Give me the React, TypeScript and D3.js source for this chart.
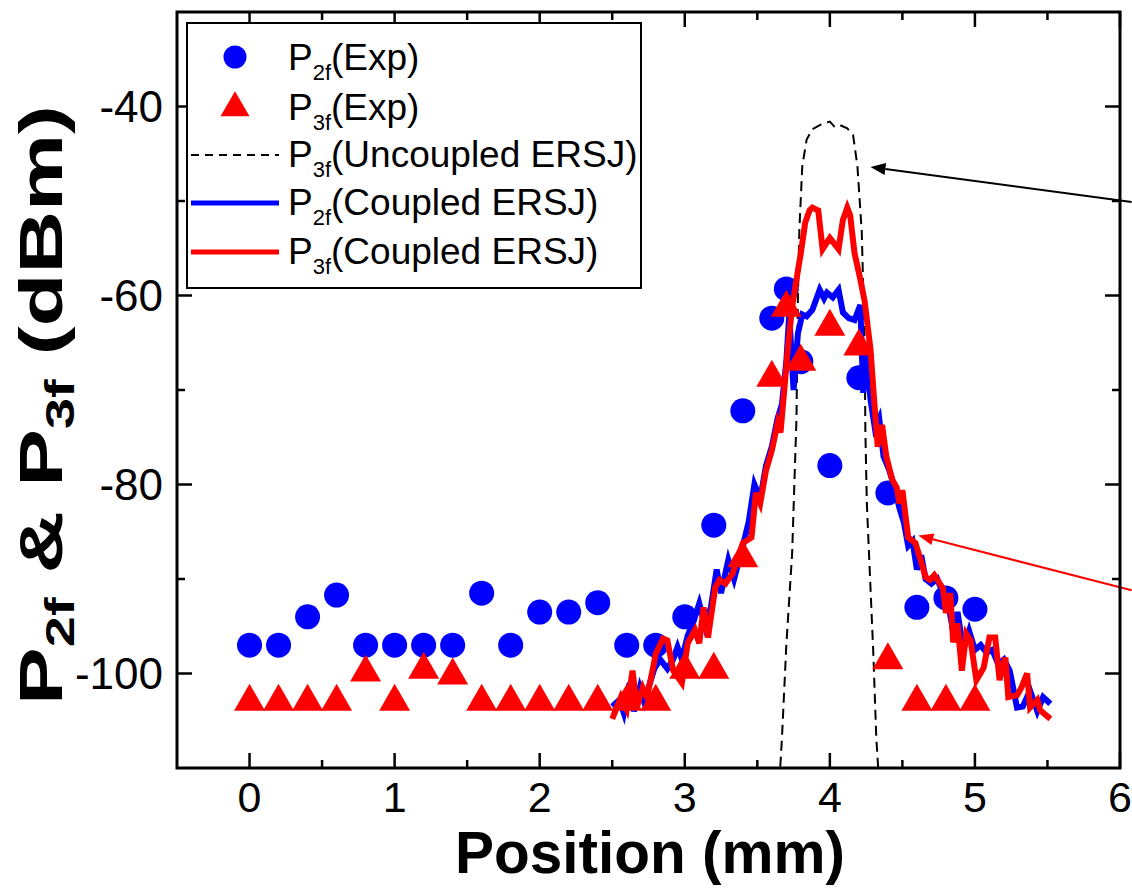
import React from 'react';
import * as d3 from 'd3';

// ---------- data ----------
const expX = [0, 0.2, 0.4, 0.6, 0.8, 1.0, 1.2, 1.4, 1.6, 1.8, 2.0, 2.2, 2.4, 2.6, 2.8, 3.0, 3.2, 3.4, 3.6, 3.7, 3.8, 4.0, 4.2, 4.4, 4.6, 4.8, 5.0];
const p2fExp = [-97, -97, -94, -91.7, -97, -97, -97, -97, -91.5, -97, -93.5, -93.5, -92.5, -97, -97, -94, -84.3, -72.2, -62.4, -59.3, -67, -78, -68.7, -80.9, -93, -92, -93.2];
const p3fExp = [-103, -103, -103, -103, -99.9, -103, -99.6, -100.2, -103, -103, -103, -103, -103, -103, -103, -99.6, -99.6, -87.8, -68.7, -61.3, -67, -63.3, -65.4, -98.6, -103, -103, -103];

const uncoupledX = [3.62, 3.65, 3.67, 3.70, 3.74, 3.77, 3.78, 3.79, 3.81, 3.84, 3.88, 3.94, 4.0, 4.03, 4.06, 4.12, 4.16, 4.19, 4.22, 4.24, 4.245, 4.255, 4.3, 4.32, 4.35];
const p3fUncoupled = [-120, -112, -106.8, -97, -87.3, -73, -60, -53, -46.3, -43.5, -42.4, -41.9, -41.6, -42.1, -41.9, -42.3, -43, -46.3, -53.3, -65, -74.5, -82, -98, -106.8, -114];

const p3fCoupledX = [2.50, 2.56, 2.60, 2.64, 2.67, 2.71, 2.74, 2.78, 2.80, 2.85, 2.88, 2.92, 2.98, 3.02, 3.07, 3.10, 3.13, 3.16, 3.21, 3.24, 3.28, 3.33, 3.40, 3.46, 3.49, 3.52, 3.56, 3.60, 3.64, 3.66, 3.68, 3.71, 3.74, 3.77, 3.80, 3.83, 3.86, 3.88, 3.92, 3.95, 4.00, 4.06, 4.09, 4.12, 4.14, 4.17, 4.21, 4.24, 4.28, 4.31, 4.33, 4.36, 4.39, 4.43, 4.46, 4.48, 4.50, 4.54, 4.59, 4.62, 4.66, 4.69, 4.72, 4.75, 4.78, 4.80, 4.83, 4.85, 4.88, 4.91, 4.94, 4.97, 5.01, 5.06, 5.10, 5.14, 5.17, 5.21, 5.23, 5.29, 5.32, 5.36, 5.38, 5.43, 5.45, 5.52];
const p3fCoupled = [-104.8, -102.5, -103.8, -99.7, -103.6, -101.5, -102.5, -99.5, -97.9, -96.3, -96.5, -99.7, -101, -96.8, -95.4, -96.8, -93, -96.2, -90.9, -90.1, -90.5, -89.4, -86.2, -85.6, -80.9, -82, -78.5, -76.4, -73.5, -74.5, -71, -65.7, -61.2, -58.3, -55.5, -52.3, -51, -50.7, -51, -55.1, -53.9, -55.1, -52, -50.7, -51.5, -55.5, -58.3, -60.6, -65.7, -72, -76, -73.7, -77.1, -79.5, -80.3, -82, -80.6, -85.6, -86.2, -87.7, -89.8, -90.1, -89.6, -90.3, -91, -93.6, -91.5, -96.7, -94.7, -99.7, -95.8, -96.5, -100.7, -99.4, -96.2, -96.2, -100.7, -98.3, -102.5, -102.3, -101.5, -100, -103.6, -102.8, -103.9, -104.8];

const p2fCoupledX = [2.50, 2.55, 2.58, 2.62, 2.65, 2.69, 2.72, 2.76, 2.79, 2.83, 2.88, 2.92, 2.95, 2.98, 3.02, 3.06, 3.10, 3.14, 3.18, 3.22, 3.25, 3.30, 3.34, 3.40, 3.44, 3.48, 3.52, 3.56, 3.60, 3.64, 3.67, 3.70, 3.72, 3.75, 3.78, 3.81, 3.84, 3.88, 3.93, 3.96, 3.98, 4.02, 4.06, 4.09, 4.13, 4.17, 4.21, 4.23, 4.25, 4.28, 4.31, 4.34, 4.37, 4.41, 4.44, 4.48, 4.51, 4.54, 4.57, 4.60, 4.63, 4.66, 4.70, 4.74, 4.78, 4.82, 4.85, 4.88, 4.92, 4.96, 5.00, 5.04, 5.08, 5.12, 5.16, 5.20, 5.24, 5.29, 5.33, 5.38, 5.43, 5.47, 5.52];
const p2fCoupled = [-103.5, -102.8, -104.2, -101, -104, -101.5, -103, -101, -99.5, -98.5, -99.5, -98.5, -97.2, -98.5, -96, -94.5, -92.6, -95, -93, -89, -91.5, -88, -90, -86.5, -84, -80, -81.5, -78, -76, -73, -71.5, -67, -62, -70, -64, -62, -62.2, -61.5, -59.4, -60.3, -59.7, -60.2, -59.4, -61.8, -62.4, -62.6, -61, -70.3, -66, -71, -74, -73, -77, -78.5, -80, -82.5, -84, -86.5, -86, -89, -87.5, -90, -90.5, -90, -91.5, -93, -95.5, -93.5, -97.5, -95.5, -97.5, -97, -97.8, -97.5, -99, -98.5, -99.7, -103.6, -103.5, -101.8, -104, -102.5, -103.2];

const xMajorTicks = [0, 1, 2, 3, 4, 5, 6];
const xMinorTicks = [0.5, 1.5, 2.5, 3.5, 4.5, 5.5];
const yMajorTicks = [-100, -80, -60, -40];
const yMinorTicks = [-90, -70, -50];

// annotation arrows: [tipX, tipY, tailX, tailY] in data units
const blackArrow = [4.28, -46.4, 6.08, -50.1];
const redArrow = [4.61, -85.4, 6.08, -91.2];

const legendLabels = [
  { sub: '2f', rest: '(Exp)' },
  { sub: '3f', rest: '(Exp)' },
  { sub: '3f', rest: '(Uncoupled ERSJ)' },
  { sub: '2f', rest: '(Coupled ERSJ)' },
  { sub: '3f', rest: '(Coupled ERSJ)' },
];

// ---------- layout ----------
const W = 1132, H = 894;
const L = 177, R = 1120, T = 12, B = 768;
const FONT = '"Liberation Sans", Arial, Helvetica, sans-serif';
const BLUE = '#0000ff', RED = '#ff0000';

const x = d3.scaleLinear().domain([-0.5, 6]).range([L, R]);
const y = d3.scaleLinear().domain([-110, -30]).range([B, T]);

const lineGen = d3.line<[number, number]>().x(d => x(d[0])).y(d => y(d[1]));
const zip = (xs: number[], ys: number[]) => xs.map((v, i) => [v, ys[i]] as [number, number]);

const TRI_W = 31, TRI_H = 27;
const triPath = (cx: number, cy: number, w = TRI_W, h = TRI_H) =>
  `M${cx},${cy - (2 * h) / 3}L${cx + w / 2},${cy + h / 3}L${cx - w / 2},${cy + h / 3}Z`;

function Arrow({ a, color, width }: { a: number[]; color: string; width: number }) {
  const tx = x(a[0]), ty = y(a[1]), sx = x(a[2]), sy = y(a[3]);
  const dx = sx - tx, dy = sy - ty;
  const len = Math.hypot(dx, dy);
  const ux = dx / len, uy = dy / len;
  const hl = 15, hw = 6;
  const bx = tx + ux * hl, by = ty + uy * hl;
  const head = `M${tx},${ty}L${bx - uy * hw},${by + ux * hw}L${bx + uy * hw},${by - ux * hw}Z`;
  return (
    <g>
      <line x1={bx} y1={by} x2={sx} y2={sy} stroke={color} strokeWidth={width} />
      <path d={head} fill={color} />
    </g>
  );
}

export default function App() {
  const rowBase = [70, 120, 167, 215, 264];
  const symX = 235;
  return (
    <div style={{ position: 'absolute', left: 0, top: 0 }}>
      <svg width={W} height={H} viewBox={`0 0 ${W} ${H}`} style={{ display: 'block', background: '#fff' }}>
        <defs>
          <clipPath id="plotClip">
            <rect x={L} y={T} width={R - L} height={B - T} />
          </clipPath>
        </defs>
        <rect x={0} y={0} width={W} height={H} fill="#fff" />

        <g clipPath="url(#plotClip)">
          <path d={lineGen(zip(uncoupledX, p3fUncoupled)) || ''} fill="none" stroke="#000" strokeWidth={2} strokeDasharray="10,6" />
          {expX.map((v, i) => (
            <circle key={'c' + i} cx={x(v)} cy={y(p2fExp[i])} r={12.5} fill={BLUE} />
          ))}
          <path d={lineGen(zip(p2fCoupledX, p2fCoupled)) || ''} fill="none" stroke={BLUE} strokeWidth={6} strokeLinejoin="miter" />
          {expX.map((v, i) => (
            <path key={'t' + i} d={triPath(x(v), y(p3fExp[i]))} fill={RED} />
          ))}
          <path d={lineGen(zip(p3fCoupledX, p3fCoupled)) || ''} fill="none" stroke={RED} strokeWidth={6} strokeLinejoin="miter" />
        </g>

        {/* arrows */}
        <Arrow a={blackArrow} color="#000" width={2} />
        <Arrow a={redArrow} color={RED} width={2} />

        {/* frame */}
        <rect x={L} y={T} width={R - L} height={B - T} fill="none" stroke="#000" strokeWidth={3} />

        {/* x ticks */}
        {xMajorTicks.map(t => (
          <g key={'xM' + t}>
            <line x1={x(t)} x2={x(t)} y1={B} y2={B - 15} stroke="#000" strokeWidth={2.5} />
            <line x1={x(t)} x2={x(t)} y1={T} y2={T + 15} stroke="#000" strokeWidth={2.5} />
            <text x={x(t)} y={812} textAnchor="middle" fontFamily={FONT} fontSize={43}>{t}</text>
          </g>
        ))}
        {xMinorTicks.map(t => (
          <g key={'xm' + t}>
            <line x1={x(t)} x2={x(t)} y1={B} y2={B - 8} stroke="#000" strokeWidth={2.5} />
            <line x1={x(t)} x2={x(t)} y1={T} y2={T + 8} stroke="#000" strokeWidth={2.5} />
          </g>
        ))}
        {/* y ticks */}
        {yMajorTicks.map(t => (
          <g key={'yM' + t}>
            <line x1={L} x2={L + 15} y1={y(t)} y2={y(t)} stroke="#000" strokeWidth={2.5} />
            <line x1={R} x2={R - 15} y1={y(t)} y2={y(t)} stroke="#000" strokeWidth={2.5} />
            <text x={163} y={y(t)} dy="0.36em" textAnchor="end" fontFamily={FONT} fontSize={44}>{String(t)}</text>
          </g>
        ))}
        {yMinorTicks.map(t => (
          <g key={'ym' + t}>
            <line x1={L} x2={L + 8} y1={y(t)} y2={y(t)} stroke="#000" strokeWidth={2.5} />
            <line x1={R} x2={R - 8} y1={y(t)} y2={y(t)} stroke="#000" strokeWidth={2.5} />
          </g>
        ))}

        {/* axis titles */}
        <text x={650} y={873} textAnchor="middle" fontFamily={FONT} fontSize={60} fontWeight="bold" textLength={390} lengthAdjust="spacingAndGlyphs">Position (mm)</text>
        <text transform={`translate(62, 405) rotate(-90)`} textAnchor="middle" fontFamily={FONT} fontSize={62} fontWeight="bold" textLength={600} lengthAdjust="spacingAndGlyphs">
          <tspan>P</tspan>
          <tspan dy={12} fontSize={40}>2f</tspan>
          <tspan dy={-12}> &amp; P</tspan>
          <tspan dy={12} fontSize={40}>3f</tspan>
          <tspan dy={-12}> (dBm)</tspan>
        </text>

        {/* legend */}
        <rect x={187} y={23} width={454} height={265} fill="#fff" stroke="#000" strokeWidth={2} />
        <circle cx={symX} cy={rowBase[0] - 13} r={11.5} fill={BLUE} />
        <path d={triPath(symX, rowBase[1] - 12, 29, 25)} fill={RED} />
        <line x1={191} x2={279} y1={rowBase[2] - 12} y2={rowBase[2] - 12} stroke="#000" strokeWidth={2} strokeDasharray="8,6" />
        <line x1={191} x2={279} y1={rowBase[3] - 12} y2={rowBase[3] - 12} stroke={BLUE} strokeWidth={5} />
        <line x1={191} x2={279} y1={rowBase[4] - 12} y2={rowBase[4] - 12} stroke={RED} strokeWidth={5} />
        {legendLabels.map((lab, i) => (
          <text key={'lg' + i} x={288} y={rowBase[i]} fontFamily={FONT} fontSize={37}>
            <tspan>P</tspan>
            <tspan dy={10} fontSize={22}>{lab.sub}</tspan>
            <tspan dy={-10}>{lab.rest}</tspan>
          </text>
        ))}
      </svg>
    </div>
  );
}
